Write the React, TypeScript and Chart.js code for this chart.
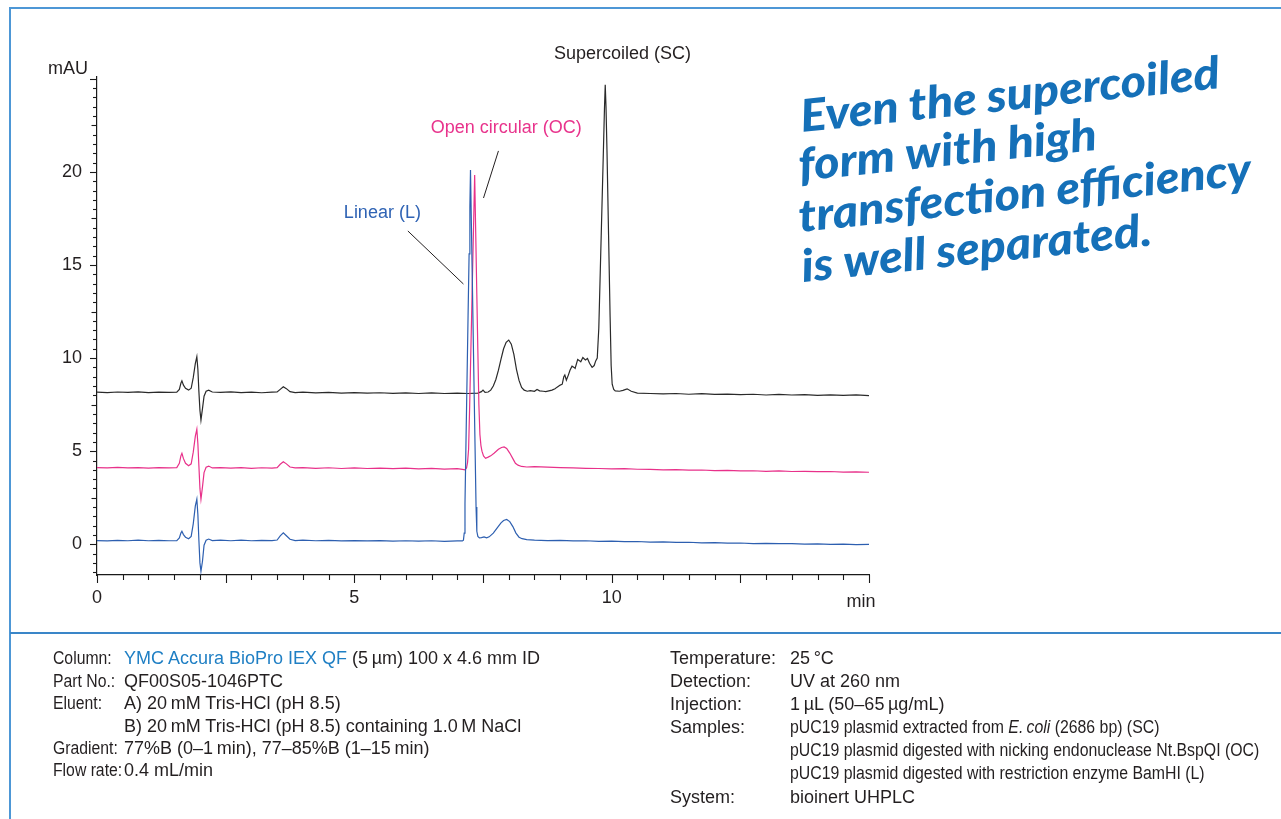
import React, { useEffect, useRef } from 'react';
import { Chart, registerables } from 'chart.js';

Chart.register(...registerables);

const FONT = '"Liberation Sans", Arimo, Arial, Helvetica, sans-serif';

// Axis ticks and units
const xTickLabels = [0, 5, 10];
const yTickLabels = [0, 5, 10, 15, 20];
const xAxisUnit = 'min';
const yAxisUnit = 'mAU';

// Series names
const seriesNames = ['Linear (L)', 'Open circular (OC)', 'Supercoiled (SC)'];

// [retention time (min), absorbance (mAU)]
const linearTrace: [number, number][] = [
  [0, 0.2], [0.2, 0.18], [0.4, 0.21], [0.6, 0.19], [0.8, 0.22], [1.0, 0.19], [1.2, 0.21], [1.4, 0.19],
  [1.55, 0.2], [1.6, 0.34], [1.63, 0.6], [1.65, 0.7], [1.68, 0.52], [1.72, 0.38], [1.78, 0.3], [1.83, 0.42],
  [1.87, 1.1], [1.91, 2.05], [1.94, 2.42], [1.96, 1.6], [1.98, 0.2], [2.0, -1.0], [2.02, -1.45], [2.05, -0.9],
  [2.08, -0.05], [2.12, 0.22], [2.17, 0.28], [2.24, 0.2], [2.4, 0.22], [2.6, 0.19], [2.8, 0.22], [3.0, 0.19],
  [3.2, 0.21], [3.4, 0.2], [3.5, 0.23], [3.56, 0.45], [3.62, 0.61], [3.68, 0.46], [3.75, 0.27], [3.85, 0.2],
  [4.0, 0.22], [4.25, 0.19], [4.5, 0.21], [4.75, 0.18], [5.0, 0.2], [5.25, 0.18], [5.5, 0.2], [5.75, 0.17],
  [6.0, 0.19], [6.25, 0.17], [6.5, 0.19], [6.75, 0.16], [7.0, 0.18], [7.1, 0.18], [7.12, 0.22], [7.135, 0.6],
  [7.15, 2.2], [7.17, 5.6], [7.19, 8.9], [7.21, 12.3], [7.23, 15.6], [7.245, 18.1], [7.257, 20.1], [7.27, 17.9],
  [7.29, 14.6], [7.31, 11.2], [7.33, 7.8], [7.35, 4.5], [7.365, 2.0], [7.38, 0.7], [7.4, 0.42], [7.43, 0.34],
  [7.47, 0.36], [7.52, 0.4], [7.57, 0.35], [7.62, 0.4], [7.7, 0.6], [7.78, 0.9], [7.85, 1.15], [7.9, 1.28],
  [7.96, 1.33], [8.02, 1.22], [8.08, 0.95], [8.14, 0.6], [8.2, 0.38], [8.26, 0.3], [8.35, 0.25], [8.5, 0.22],
  [8.75, 0.2], [9.0, 0.21], [9.25, 0.18], [9.5, 0.19], [9.75, 0.16], [10.0, 0.17], [10.25, 0.14], [10.5, 0.15],
  [10.75, 0.12], [11.0, 0.13], [11.25, 0.1], [11.5, 0.11], [11.75, 0.08], [12.0, 0.09], [12.25, 0.06], [12.5, 0.07],
  [12.75, 0.04], [13.0, 0.05], [13.25, 0.03], [13.5, 0.04], [13.75, 0.01], [14.0, 0.02], [14.25, 0.0], [14.5, 0.01],
  [14.75, -0.02], [15.0, -0.01],
];

const openCircularTrace: [number, number][] = [
  [0, 4.12], [0.2, 4.1], [0.4, 4.13], [0.6, 4.1], [0.8, 4.12], [1.0, 4.09], [1.2, 4.12], [1.4, 4.1],
  [1.55, 4.12], [1.6, 4.35], [1.63, 4.75], [1.65, 4.89], [1.68, 4.6], [1.72, 4.35], [1.78, 4.22], [1.83, 4.32],
  [1.87, 4.95], [1.91, 5.8], [1.94, 6.18], [1.96, 5.4], [1.98, 4.2], [2.0, 3.0], [2.02, 2.42], [2.05, 3.1],
  [2.08, 3.85], [2.12, 4.14], [2.17, 4.2], [2.24, 4.1], [2.4, 4.12], [2.6, 4.09], [2.8, 4.12], [3.0, 4.08],
  [3.2, 4.11], [3.4, 4.09], [3.5, 4.12], [3.56, 4.3], [3.62, 4.43], [3.68, 4.32], [3.75, 4.15], [3.85, 4.1],
  [4.0, 4.12], [4.25, 4.08], [4.5, 4.11], [4.75, 4.07], [5.0, 4.1], [5.25, 4.07], [5.5, 4.09], [5.75, 4.06],
  [6.0, 4.09], [6.25, 4.05], [6.5, 4.08], [6.75, 4.04], [7.0, 4.06], [7.1, 4.02], [7.15, 4.0], [7.18, 4.1],
  [7.2, 4.4], [7.22, 5.1], [7.24, 7.3], [7.26, 9.9], [7.28, 12.4], [7.3, 15.0], [7.32, 17.5], [7.338, 19.84],
  [7.36, 16.5], [7.38, 13.4], [7.4, 10.4], [7.42, 7.5], [7.44, 5.9], [7.46, 5.3], [7.48, 5.0], [7.51, 4.75],
  [7.55, 4.62], [7.6, 4.68], [7.65, 4.75], [7.72, 4.9], [7.8, 5.1], [7.86, 5.2], [7.91, 5.23], [7.96, 5.15],
  [8.02, 4.9], [8.08, 4.6], [8.13, 4.35], [8.18, 4.25], [8.25, 4.18], [8.35, 4.15], [8.5, 4.17], [8.75, 4.14],
  [9.0, 4.12], [9.25, 4.1], [9.5, 4.08], [9.75, 4.07], [10.0, 4.05], [10.25, 4.06], [10.5, 4.03], [10.75, 4.02],
  [11.0, 4.0], [11.25, 4.01], [11.5, 3.98], [11.75, 3.99], [12.0, 3.96], [12.25, 3.97], [12.5, 3.94], [12.75, 3.95],
  [13.0, 3.92], [13.25, 3.94], [13.5, 3.91], [13.75, 3.92], [14.0, 3.9], [14.25, 3.91], [14.5, 3.88], [14.75, 3.89],
  [15.0, 3.87],
];

const supercoiledTrace: [number, number][] = [
  [0, 8.17], [0.2, 8.15], [0.4, 8.18], [0.6, 8.16], [0.8, 8.19], [1.0, 8.15], [1.2, 8.17], [1.4, 8.16],
  [1.55, 8.17], [1.6, 8.32], [1.63, 8.65], [1.65, 8.78], [1.68, 8.55], [1.72, 8.38], [1.78, 8.28], [1.83, 8.38],
  [1.87, 8.95], [1.91, 9.7], [1.94, 10.07], [1.96, 9.4], [1.98, 8.2], [2.0, 7.2], [2.02, 6.67], [2.05, 7.3],
  [2.08, 7.95], [2.12, 8.22], [2.17, 8.28], [2.24, 8.18], [2.4, 8.16], [2.6, 8.19], [2.8, 8.15], [3.0, 8.17],
  [3.2, 8.14], [3.4, 8.17], [3.5, 8.18], [3.56, 8.32], [3.62, 8.46], [3.68, 8.36], [3.75, 8.2], [3.85, 8.15],
  [4.0, 8.17], [4.25, 8.13], [4.5, 8.16], [4.75, 8.12], [5.0, 8.15], [5.25, 8.12], [5.5, 8.14], [5.75, 8.11],
  [6.0, 8.13], [6.25, 8.1], [6.5, 8.13], [6.75, 8.1], [7.0, 8.12], [7.2, 8.1], [7.4, 8.12], [7.47, 8.2],
  [7.5, 8.28], [7.54, 8.16], [7.6, 8.18], [7.65, 8.28], [7.7, 8.5], [7.75, 8.85], [7.8, 9.35], [7.85, 9.95],
  [7.9, 10.5], [7.95, 10.85], [8.0, 10.97], [8.05, 10.75], [8.1, 10.2], [8.15, 9.4], [8.2, 8.8], [8.25, 8.42],
  [8.3, 8.28], [8.36, 8.22], [8.42, 8.25], [8.5, 8.22], [8.55, 8.32], [8.6, 8.24], [8.67, 8.22], [8.72, 8.2],
  [8.78, 8.24], [8.84, 8.28], [8.9, 8.35], [8.94, 8.44], [9.0, 8.55], [9.04, 8.6], [9.07, 9.0], [9.09, 9.09],
  [9.12, 8.82], [9.16, 9.1], [9.19, 9.35], [9.23, 9.57], [9.27, 9.5], [9.29, 9.45], [9.34, 9.93], [9.38, 9.85],
  [9.4, 9.8], [9.44, 10.03], [9.47, 9.95], [9.49, 9.9], [9.53, 9.98], [9.57, 9.72], [9.62, 9.5], [9.66, 9.6],
  [9.69, 9.85], [9.72, 10.0], [9.75, 11.6], [9.78, 14.8], [9.81, 18.0], [9.84, 21.2], [9.86, 23.4], [9.875, 24.68],
  [9.89, 23.5], [9.91, 21.0], [9.94, 16.6], [9.97, 12.2], [9.99, 9.6], [10.01, 8.6], [10.04, 8.32], [10.07, 8.24],
  [10.15, 8.22], [10.22, 8.27], [10.3, 8.35], [10.38, 8.22], [10.5, 8.12], [10.75, 8.1], [11.0, 8.08], [11.25, 8.1],
  [11.5, 8.06], [11.75, 8.09], [12.0, 8.05], [12.25, 8.07], [12.5, 8.04], [12.75, 8.06], [13.0, 8.02], [13.25, 8.05],
  [13.5, 8.02], [13.75, 8.04], [14.0, 8.0], [14.25, 8.03], [14.5, 8.0], [14.75, 8.02], [15.0, 7.99],
];

// Peak annotations, anchored in data units (min, mAU)
const peakLabels = [
  { text: 'Supercoiled (SC)', t: 10.21, v: 26.34, color: '#231f20' },
  { text: 'Open circular (OC)', t: 7.95, v: 22.37, color: '#e8338c' },
  { text: 'Linear (L)', t: 5.545, v: 17.8, color: '#2f63b4' },
];
const leaderLines = [
  { from: [7.8, 21.13], to: [7.51, 18.6] },
  { from: [6.04, 16.83], to: [7.12, 13.98] },
];

const headline = ['Even the supercoiled', 'form with high', 'transfection efficiency', 'is well separated.'];
const headlineAnchors = [[802, 132], [800, 181], [800, 232], [803, 282]];

const overlayPlugin = {
  id: 'overlay',
  afterDraw(chart: any) {
    const { ctx, chartArea: ca } = chart;
    const xs = chart.scales.x;
    const ys = chart.scales.y;
    ctx.save();
    ctx.strokeStyle = '#1a1a1a';
    ctx.lineWidth = 1.1;
    for (let i = Math.ceil(ys.min * 2); i <= Math.floor(ys.max * 2); i++) {
      const v = i / 2;
      const py = Math.round(ys.getPixelForValue(v)) + 0.5;
      const len = v % 5 === 0 ? 7 : v % 2.5 === 0 ? 5.5 : 4;
      ctx.beginPath();
      ctx.moveTo(ca.left - len, py);
      ctx.lineTo(ca.left, py);
      ctx.stroke();
    }
    for (let i = 0; i <= 30; i++) {
      const v = i / 2;
      const px = Math.round(xs.getPixelForValue(v)) + 0.5;
      const len = v % 2.5 === 0 ? 8 : 5;
      ctx.beginPath();
      ctx.moveTo(px, ca.bottom);
      ctx.lineTo(px, ca.bottom + len);
      ctx.stroke();
    }
    ctx.fillStyle = '#231f20';
    ctx.font = `18px ${FONT}`;
    ctx.textAlign = 'center';
    ctx.textBaseline = 'middle';
    ctx.fillText(yAxisUnit, ca.left - 29, ca.top - 8);
    ctx.fillText(xAxisUnit, ca.right - 8, ca.bottom + 27);

    peakLabels.forEach((p) => {
      ctx.fillStyle = p.color;
      ctx.fillText(p.text, xs.getPixelForValue(p.t), ys.getPixelForValue(p.v));
    });
    ctx.strokeStyle = '#231f20';
    ctx.lineWidth = 1;
    leaderLines.forEach((l) => {
      ctx.beginPath();
      ctx.moveTo(xs.getPixelForValue(l.from[0]), ys.getPixelForValue(l.from[1]));
      ctx.lineTo(xs.getPixelForValue(l.to[0]), ys.getPixelForValue(l.to[1]));
      ctx.stroke();
    });

    ctx.font = 'italic 900 45px Lato, "Noto Sans", sans-serif';
    ctx.fillStyle = '#1570b8';
    ctx.textAlign = 'left';
    ctx.textBaseline = 'alphabetic';
    const sx = 455 / ctx.measureText(headline[2]).width;
    headline.forEach((line, i) => {
      ctx.save();
      ctx.translate(headlineAnchors[i][0], headlineAnchors[i][1]);
      ctx.rotate((-6 * Math.PI) / 180);
      ctx.scale(sx, 1);
      ctx.fillText(line, 0, 0);
      ctx.restore();
    });
    ctx.restore();
  },
};

const TEXT = '#231f20';
const INFO_SIZE = 18;

function Row({ x, cy, size, children }: { x: number; cy: number; size?: number; children: any }) {
  return (
    <div
      style={{
        position: 'absolute',
        left: x,
        top: cy - 11,
        lineHeight: '22px',
        fontSize: size ?? INFO_SIZE,
        whiteSpace: 'nowrap',
        color: TEXT,
        fontFamily: FONT,
      }}
    >
      {children}
    </div>
  );
}

const narrow = {
  display: 'inline-block',
  transform: 'scaleX(0.88)',
  transformOrigin: 'left center',
} as const;

const labelNarrow = {
  display: 'inline-block',
  transform: 'scaleX(0.9)',
  transformOrigin: 'left center',
} as const;

export default function App() {
  const canvasRef = useRef<HTMLCanvasElement>(null);

  useEffect(() => {
    const traces = [linearTrace, openCircularTrace, supercoiledTrace];
    const colors = ['#2d5fb0', '#e8318a', '#2a2a2a'];
    const chart = new Chart(canvasRef.current as HTMLCanvasElement, {
      type: 'line',
      data: {
        datasets: traces.map((tr, i) => ({
          label: seriesNames[i],
          data: tr.map(([t, v]) => ({ x: t, y: v })),
          borderColor: colors[i],
          borderWidth: 1.2,
          pointRadius: 0,
          tension: 0,
          fill: false,
        })),
      },
      options: {
        responsive: false,
        animation: false,
        devicePixelRatio: 1,
        layout: { padding: { left: 0, top: 77, right: 412, bottom: 0 } },
        plugins: { legend: { display: false }, tooltip: { enabled: false } },
        scales: {
          x: {
            type: 'linear',
            min: 0,
            max: 15,
            afterBuildTicks: (s: any) => {
              s.ticks = xTickLabels.map((v) => ({ value: v }));
            },
            afterFit: (s: any) => {
              s.height = 244;
            },
            grid: { display: false, drawTicks: false },
            border: { display: true, color: '#1a1a1a', width: 1.2 },
            ticks: { font: { family: FONT, size: 18 }, color: TEXT, padding: 12, maxRotation: 0, autoSkip: false },
          },
          y: {
            type: 'linear',
            min: -1.65,
            max: 25.1,
            afterBuildTicks: (s: any) => {
              s.ticks = yTickLabels.map((v) => ({ value: v }));
            },
            afterFit: (s: any) => {
              s.width = 97;
            },
            grid: { display: false, drawTicks: false },
            border: { display: true, color: '#1a1a1a', width: 1.2 },
            ticks: { font: { family: FONT, size: 18 }, color: TEXT, padding: 15, autoSkip: false },
          },
        },
      },
      plugins: [overlayPlugin],
    } as any);
    return () => chart.destroy();
  }, []);

  return (
    <div
      style={{
        position: 'fixed',
        left: 0,
        top: 0,
        width: 1281,
        height: 819,
        background: '#fff',
        overflow: 'hidden',
        fontFamily: FONT,
      }}
    >
      <canvas ref={canvasRef} width={1281} height={819} style={{ position: 'absolute', left: 0, top: 0, width: 1281, height: 819 }} />
      <div style={{ position: 'absolute', left: 10, top: 7, width: 1271, height: 1.5, background: '#4d97d6' }} />
      <div style={{ position: 'absolute', left: 9, top: 7, width: 1.5, height: 812, background: '#4d97d6' }} />
      <div style={{ position: 'absolute', left: 10, top: 632, width: 1271, height: 2, background: '#3a86c8' }} />

      <Row x={53} cy={658} size={17.5}><span style={labelNarrow}>Column:</span></Row>
      <Row x={124} cy={658}>
        <span style={{ color: '#1f7fc4' }}>YMC Accura BioPro IEX QF</span> (5{'\u2009'}µm) 100 x 4.6 mm ID
      </Row>
      <Row x={53} cy={680.5} size={17.5}><span style={labelNarrow}>Part No.:</span></Row>
      <Row x={124} cy={680.5}>QF00S05-1046PTC</Row>
      <Row x={53} cy={703} size={17.5}><span style={labelNarrow}>Eluent:</span></Row>
      <Row x={124} cy={703}>A) 20{'\u2009'}mM Tris-HCl (pH 8.5)</Row>
      <Row x={124} cy={725.5}>B) 20{'\u2009'}mM Tris-HCl (pH 8.5) containing 1.0{'\u2009'}M NaCl</Row>
      <Row x={53} cy={748} size={17.5}><span style={labelNarrow}>Gradient:</span></Row>
      <Row x={124} cy={748}>77%B (0–1{'\u2009'}min), 77–85%B (1–15{'\u2009'}min)</Row>
      <Row x={53} cy={770} size={17.5}><span style={labelNarrow}>Flow rate:</span></Row>
      <Row x={124} cy={770}>0.4 mL/min</Row>

      <Row x={670} cy={658}>Temperature:</Row>
      <Row x={790} cy={658}>25{'\u2009'}°C</Row>
      <Row x={670} cy={681}>Detection:</Row>
      <Row x={790} cy={681}>UV at 260 nm</Row>
      <Row x={670} cy={704}>Injection:</Row>
      <Row x={790} cy={704}>1{'\u2009'}µL (50–65{'\u2009'}µg/mL)</Row>
      <Row x={670} cy={727}>Samples:</Row>
      <Row x={790} cy={727}>
        <span style={narrow}>
          pUC19 plasmid extracted from <i>E.{'\u2009'}coli</i> (2686 bp) (SC)
        </span>
      </Row>
      <Row x={790} cy={750}>
        <span style={narrow}>pUC19 plasmid digested with nicking endonuclease Nt.BspQI (OC)</span>
      </Row>
      <Row x={790} cy={773}>
        <span style={narrow}>pUC19 plasmid digested with restriction enzyme BamHI (L)</span>
      </Row>
      <Row x={670} cy={797}>System:</Row>
      <Row x={790} cy={797}>bioinert UHPLC</Row>
    </div>
  );
}
